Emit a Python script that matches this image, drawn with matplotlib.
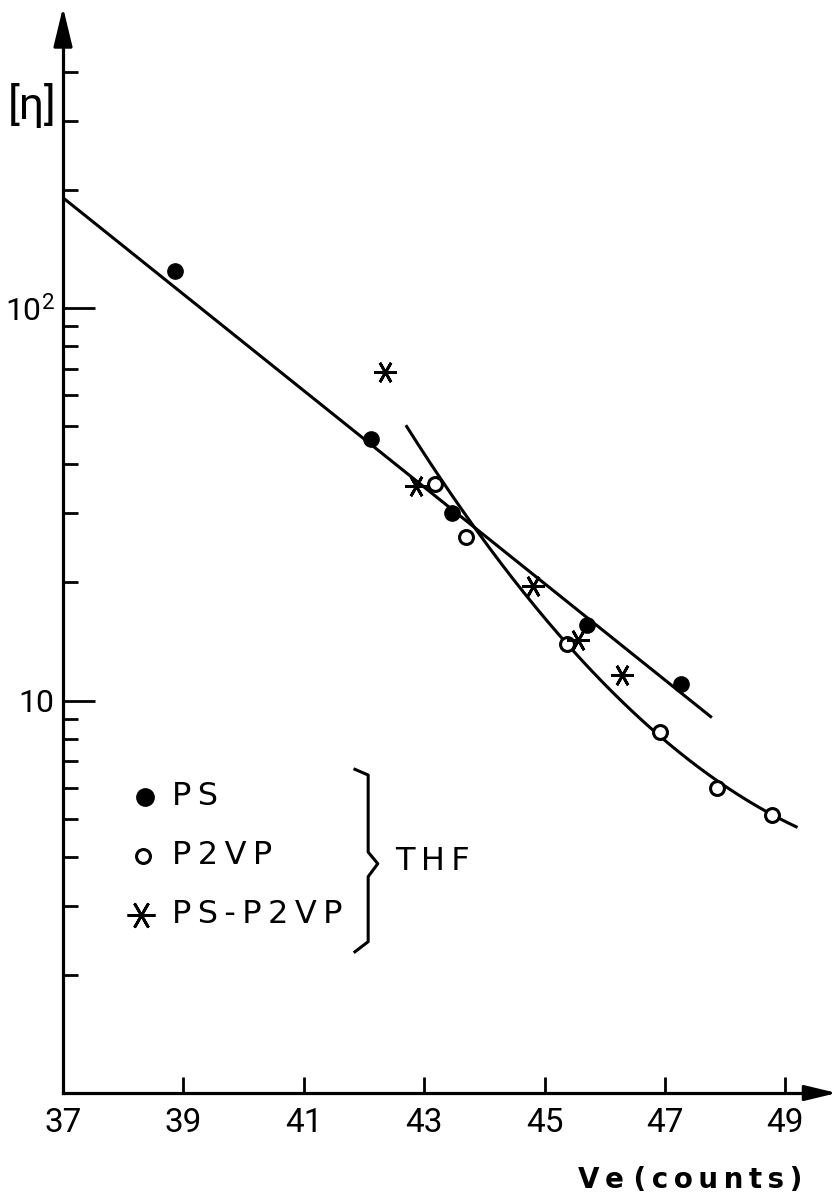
import numpy as np
import matplotlib
matplotlib.use("Agg")
import matplotlib.pyplot as plt

# PS (filled circles)
ps_x = [38.86, 42.12, 43.46, 45.70, 47.27]
ps_y = [124, 46.5, 30.0, 15.6, 11.0]

# P2VP (open circles)
p2vp_x = [43.18, 43.69, 45.37, 46.92, 47.86, 48.78]
p2vp_y = [35.7, 26.1, 13.9, 8.3, 5.98, 5.10]

# PS-P2VP (stars)
blk_x = [42.35, 42.86, 44.81, 45.55, 46.29]
blk_y = [68.9, 35.3, 19.6, 14.3, 11.6]

# hand drawn lines
ps_line_x = [37.0, 47.76]
ps_line_y = [191, 9.1]
p2vp_curve_x = [42.71, 43.5, 44.5, 45.4, 46.4, 47.4, 48.4, 49.18]
p2vp_curve_y = [49.9, 32.7, 20.2, 13.8, 9.57, 7.05, 5.53, 4.77]

xticks = [37, 39, 41, 43, 45, 47, 49]
yticks = [1, 10, 100]
ytick_labels = ['', '10', '10$^2$']

TS = '\u2009'  # thin space for the letter spacing
legend_labels = [TS.join('PS'), TS.join('P2VP'), TS.join('PS-P2VP')]

plt.rcParams['font.family'] = ['Roboto', 'DejaVu Sans']
plt.rcParams['mathtext.default'] = 'regular'

fig = plt.figure(figsize=(8.39, 12.01), dpi=100)
ax = fig.add_axes([0.0751, 0.0899, 0.8903, 0.8768])
ax.set_yscale('log')
ax.set_xlim(37, 49.41)
ax.set_ylim(1, 482)

for s in ['top', 'right']:
    ax.spines[s].set_visible(False)
for s in ['left', 'bottom']:
    ax.spines[s].set_linewidth(2.3)

# arrow heads on the axes
ax.annotate('', xy=(0, 1.031), xytext=(0, 0.999), xycoords='axes fraction',
            arrowprops=dict(arrowstyle='-|>,head_length=2.4,head_width=0.58',
                            mutation_scale=10, color='black', lw=2.2,
                            shrinkA=0, shrinkB=0))
ax.annotate('', xy=(1.036, 0), xytext=(0.999, 0), xycoords='axes fraction',
            arrowprops=dict(arrowstyle='-|>,head_length=1.95,head_width=0.47',
                            mutation_scale=10, color='black', lw=2.2,
                            shrinkA=0, shrinkB=0))

ax.set_xticks(xticks)
ax.set_xticklabels([str(t) for t in xticks])
ax.set_yticks(yticks)
ax.set_yticklabels(ytick_labels)
ax.yaxis.set_minor_formatter(matplotlib.ticker.NullFormatter())
ax.tick_params(axis='x', direction='in', length=11.5, width=2, labelsize=24, pad=10)
ax.tick_params(axis='y', which='major', direction='in', length=23, width=2,
               labelsize=23, pad=6)
ax.tick_params(axis='y', which='minor', direction='in', length=11, width=2)

# fitted lines
ax.plot(ps_line_x, ps_line_y, color='black', lw=2.2)
coef = np.polyfit(p2vp_curve_x, np.log10(p2vp_curve_y), 2)
xx = np.linspace(p2vp_curve_x[0], p2vp_curve_x[-1], 200)
ax.plot(xx, 10 ** np.polyval(coef, xx), color='black', lw=2.2)

star = (6, 2, 30)
ax.plot(ps_x, ps_y, 'o', color='black', ms=11, clip_on=False)
ax.plot(p2vp_x, p2vp_y, 'o', mfc='white', mec='black', mew=2.2, ms=10)
ax.plot(blk_x, blk_y, marker=star, ls='none', color='black', ms=16, mew=2)

# legend drawn by hand
leg_y = [5.68, 4.02, 2.85]
ax.plot(38.36, leg_y[0], 'o', color='black', ms=12.5)
ax.plot(38.33, leg_y[1], 'o', mfc='white', mec='black', mew=2.2, ms=10)
ax.plot(38.30, leg_y[2], marker=star, color='black', ms=20, mew=2)
for lab, yv in zip(legend_labels, leg_y):
    ax.text(38.81, yv, lab, fontsize=23, va='center', ha='left',
            family='DejaVu Sans')

# brace and solvent
bx = [41.85, 42.07, 42.07, 42.23, 42.07, 42.07, 41.85]
by = [6.68, 6.46, 4.11, 3.84, 3.56, 2.43, 2.29]
ax.plot(bx, by, color='black', lw=2.2)
ax.text(42.51, 3.9, TS.join('THF'), fontsize=23, va='center', ha='left',
        family='DejaVu Sans')

fig.text(0.038, 0.912, '[η]', fontsize=32, ha='center', va='center')
fig.text(0.956, 0.0175, TS.join('Ve') + ' ' + TS.join('(counts)'), fontsize=20,
         ha='right', va='center', fontweight='bold', family='DejaVu Sans')

fig.savefig('out.png', dpi=100)
